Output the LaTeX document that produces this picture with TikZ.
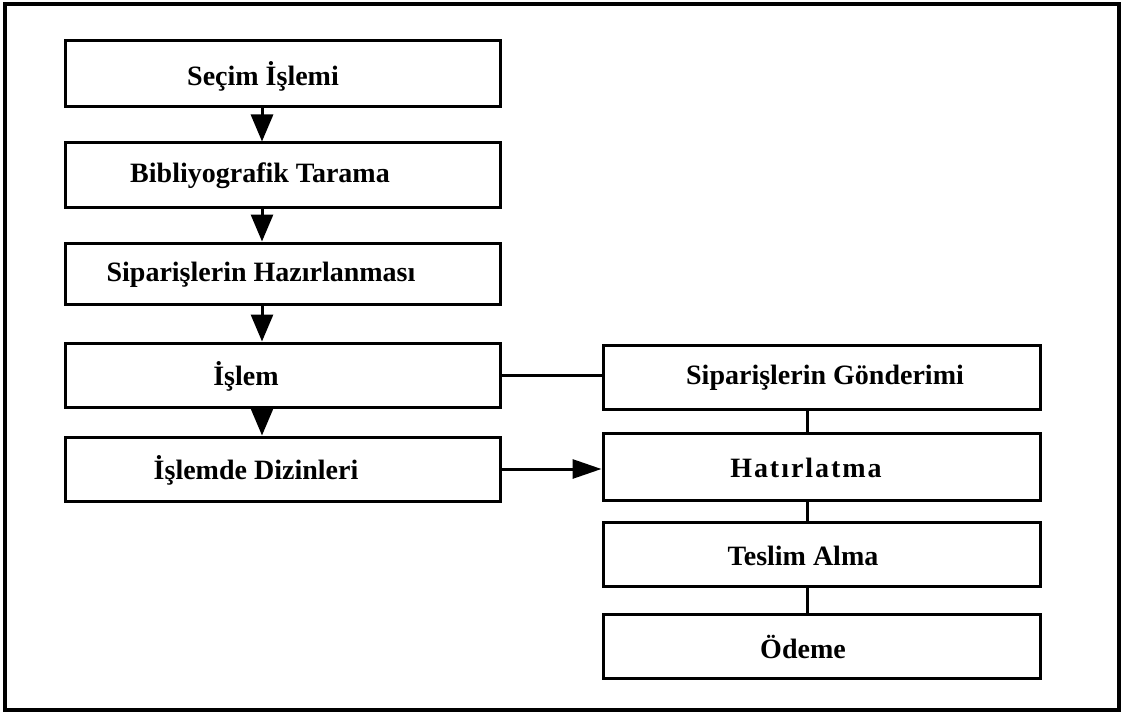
\documentclass[tikz,border=0pt]{standalone}
\usepackage{fontspec}
\setmainfont{Liberation Serif}
\usetikzlibrary{arrows.meta,calc}
\begin{document}
\begin{tikzpicture}[x=1pt,y=-1pt,
  box/.style={draw,line width=3pt,minimum height=64pt,inner sep=0pt},
  lbox/.style={box,minimum width=435pt},
  rbox/.style={box,minimum width=437pt},
  lbl/.style={font=\fontsize{28}{32}\selectfont\bfseries,inner sep=0pt},
  conn/.style={line width=3pt},
  varrow/.style={conn,-{Triangle[length=27pt,width=22pt]}},
  harrow/.style={conn,-{Triangle[length=29pt,width=19pt]}}]
\useasboundingbox (0,0) rectangle (1126,714);
\draw[line width=4.5pt] (5,4) rectangle (1119,710);
% left column
\node[lbox,minimum height=66pt] (b1) at (282.5,74) {};
\node[lbox] (b2) at (282.5,175) {};
\node[lbox,minimum height=61pt] (b3) at (282.5,273.5) {};
\node[lbox] (b4) at (282.5,375) {};
\node[lbox] (b5) at (282.5,469) {};
\node[lbl] (t1) at (263,76) {Seçim İşlemi};
\node[lbl] (t2) at (260,176) {Bibliyografik Tarama};
\node[lbl] (t3) at (261,275) {Siparişlerin Hazırlanması};
\node[lbl] (t4) at (246,376) {İşlem};
\node[lbl] (t5) at (256,470) {İşlemde Dizinleri};
% right column
\node[rbox] (r1) at (821.5,377) {};
\node[rbox,minimum height=67pt] (r2) at (821.5,466.5) {};
\node[rbox] (r3) at (821.5,554) {};
\node[rbox] (r4) at (821.5,646) {};
\node[lbl] (s1) at (825,378) {Siparişlerin Gönderimi};
\node[lbl] (s2) at (806,468) {\addfontfeatures{LetterSpace=7}Hatırlatma};
\node[lbl] (s3) at (803,556) {Teslim Alma};
\node[lbl] (s4) at (803,647) {Ödeme};
% left arrows
\draw[varrow] ([xshift=-20.5pt]b1.south) -- ([xshift=-20.5pt]b2.north);
\draw[varrow] ([xshift=-20.5pt]b2.south) -- ([xshift=-20.5pt]b3.north);
\draw[varrow] ([xshift=-20.5pt]b3.south) -- ([xshift=-20.5pt]b4.north);
\draw[varrow] ([xshift=-20.5pt]b4.south) -- ([xshift=-20.5pt]b5.north);
% cross connectors
\draw[conn] (b4.east) -- (b4.east -| r1.west);
\draw[harrow] (b5.east) -- (b5.east -| r2.west);
% right connectors
\draw[conn] ([xshift=-14.5pt]r1.south) -- ([xshift=-14.5pt]r2.north);
\draw[conn] ([xshift=-14.5pt]r2.south) -- ([xshift=-14.5pt]r3.north);
\draw[conn] ([xshift=-14.5pt]r3.south) -- ([xshift=-14.5pt]r4.north);
\end{tikzpicture}
\end{document}
